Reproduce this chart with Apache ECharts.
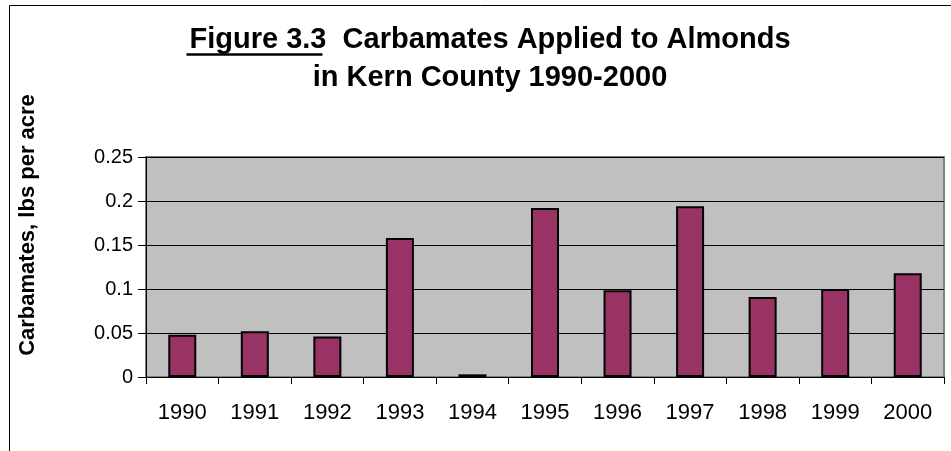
<!DOCTYPE html>
<html>
<head>
<meta charset="utf-8">
<script src="https://cdn.jsdelivr.net/npm/echarts@6/dist/echarts.min.js"></script>
<style>
html,body{margin:0;padding:0;background:#fff;}
#c{width:951px;height:451px;}
</style>
</head>
<body>
<div id="c"></div>
<script>
const years = ['1990','1991','1992','1993','1994','1995','1996','1997','1998','1999','2000'];
const carbamates = [0.048, 0.052, 0.046, 0.158, 0.003, 0.192, 0.0985, 0.194, 0.091, 0.100, 0.118];
const yTicks = [0, 0.05, 0.1, 0.15, 0.2, 0.25];
const titleLine1 = 'Figure 3.3  Carbamates Applied to Almonds';
const titleLine2 = 'in Kern County 1990-2000';
const underlined = 'Figure 3.3';

const FONT = 'Liberation Sans, Arial, sans-serif';
const TITLE_SIZE = 29;
const TITLE_CX = 485;

// measure for underline
const ctx = document.createElement('canvas').getContext('2d');
ctx.font = 'bold ' + TITLE_SIZE + 'px ' + FONT;
const fullW = ctx.measureText(titleLine1).width;
const ulW = ctx.measureText(underlined).width;
const ulX0 = TITLE_CX - fullW / 2 + 2;

const chart = echarts.init(document.getElementById('c'), null, {renderer:'canvas'});
chart.setOption({
  animation:false,
  backgroundColor:'#fff',
  grid:{left:146, right:7, top:157, bottom:74, show:true, backgroundColor:'#C0C0C0', borderColor:'#808080', borderWidth:2},
  title:{
    text: titleLine1 + '\n' + titleLine2,
    left:TITLE_CX, top:16, textAlign:'center',
    textStyle:{fontFamily:FONT, fontWeight:'bold', fontSize:TITLE_SIZE, color:'#000', lineHeight:38}
  },
  graphic:[
    {type:'rect', shape:{x:9.5,y:5.5,width:960,height:460}, style:{fill:null, stroke:'#000', lineWidth:1}, silent:true},
    {type:'line', shape:{x1:ulX0, y1:54.5, x2:ulX0+ulW-1, y2:54.5}, style:{stroke:'#000', lineWidth:2.5}, silent:true},
    {type:'text', x:28, y:225, rotation:Math.PI/2, style:{text:'Carbamates, lbs per acre', fontFamily:FONT, fontWeight:'bold', fontSize:22, fill:'#000', align:'center', verticalAlign:'middle'}}
  ],
  xAxis:{
    type:'category', data:years,
    axisLine:{lineStyle:{color:'#000', width:1}},
    axisTick:{show:true, alignWithLabel:false, length:7, lineStyle:{color:'#000'}},
    axisLabel:{fontFamily:FONT, fontSize:22, color:'#000', margin:25}
  },
  yAxis:{
    type:'value', min:0, max:0.25, interval:0.05,
    axisLine:{show:true, lineStyle:{color:'#000', width:1}},
    axisTick:{show:true, length:8, lineStyle:{color:'#000'}},
    axisLabel:{fontFamily:FONT, fontSize:20, color:'#000', margin:13,
      formatter:function(v){ const t = yTicks.find(x=>Math.abs(x-v)<1e-9); return t===undefined? '' : String(t); }},
    splitLine:{show:true, lineStyle:{color:'#000', width:1}}
  },
  series:[{
    type:'bar', data:carbamates, barWidth:28,
    itemStyle:{color:'#993366', borderColor:'#000', borderWidth:2}
  }]
});
</script>
</body>
</html>
